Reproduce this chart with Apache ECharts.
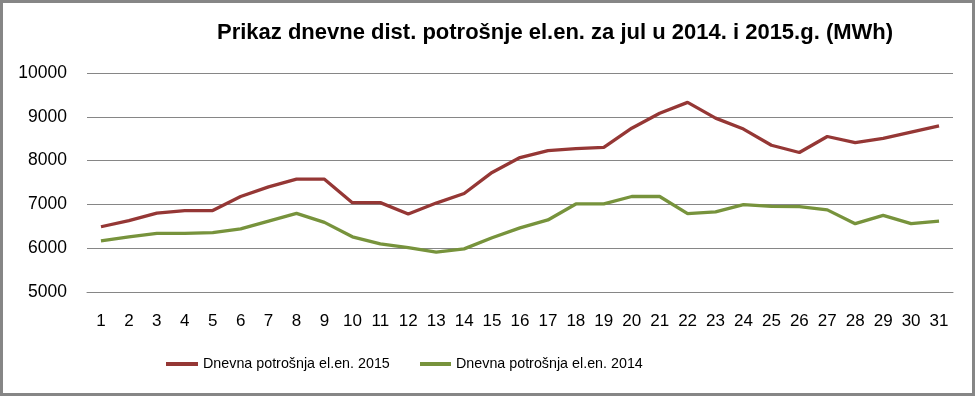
<!DOCTYPE html>
<html>
<head>
<meta charset="utf-8">
<script src="https://cdn.jsdelivr.net/npm/echarts@6/dist/echarts.min.js"></script>
<style>
html,body{margin:0;padding:0;background:#fff;}
#chart{width:977px;height:396px;}
</style>
</head>
<body>
<div id="chart"></div>
<script>
var titleText = 'Prikaz dnevne dist. potrošnje el.en. za jul u 2014. i 2015.g. (MWh)';
var days = ['1','2','3','4','5','6','7','8','9','10','11','12','13','14','15','16','17','18','19','20','21','22','23','24','25','26','27','28','29','30','31'];
var name2015 = 'Dnevna potrošnja el.en. 2015';
var name2014 = 'Dnevna potrošnja el.en. 2014';
var v2015 = [6490, 6630, 6800, 6860, 6860, 7180, 7400, 7575, 7575, 7040, 7040, 6780, 7030, 7250, 7730, 8070, 8230, 8275, 8300, 8740, 9080, 9330, 8970, 8720, 8350, 8185, 8550, 8410, 8505, 8650, 8795];
var v2014 = [6165, 6260, 6340, 6340, 6355, 6440, 6620, 6795, 6590, 6260, 6100, 6015, 5910, 5985, 6240, 6465, 6645, 7010, 7010, 7180, 7180, 6790, 6830, 6995, 6955, 6950, 6875, 6560, 6750, 6560, 6620];

var FONT = '"Liberation Sans", Arial, sans-serif';
var chart = echarts.init(document.getElementById('chart'), null, {renderer: 'canvas'});
chart.setOption({
  animation: false,
  backgroundColor: '#ffffff',
  title: {
    text: titleText,
    left: 212, top: 17,
    textStyle: {fontFamily: FONT, fontWeight: 'bold', fontSize: 22, color: '#000'}
  },
  legend: [{
    data: [name2015],
    left: 166, top: 357, padding: 0,
    icon: 'rect', itemWidth: 32, itemHeight: 4,
    textStyle: {fontFamily: FONT, fontSize: 14.3, color: '#000'}
  }, {
    data: [name2014],
    left: 420, top: 357, padding: 0,
    icon: 'rect', itemWidth: 31, itemHeight: 4,
    textStyle: {fontFamily: FONT, fontSize: 14.3, color: '#000'}
  }],
  graphic: [{
    type: 'rect', silent: true, z: 100,
    shape: {x: 1.5, y: 1.5, width: 972, height: 393},
    style: {fill: 'none', stroke: '#868686', lineWidth: 3}
  }],
  grid: {left: 87, right: 24, top: 73, bottom: 104, containLabel: false},
  xAxis: {
    type: 'category', data: days, boundaryGap: true,
    axisLine: {show: true, lineStyle: {color: '#868686', width: 1}},
    axisTick: {show: false},
    axisLabel: {interval: 0, margin: 21, fontFamily: FONT, fontSize: 17, color: '#000'}
  },
  yAxis: {
    type: 'value', min: 5000, max: 10000, interval: 1000,
    axisLine: {show: false}, axisTick: {show: false},
    splitLine: {lineStyle: {color: '#868686', width: 1}},
    axisLabel: {margin: 20, fontFamily: FONT, fontSize: 17.5, color: '#000',
      formatter: function (v) { return String(v); }}
  },
  series: [{
    name: name2015, type: 'line', data: v2015, symbol: 'none',
    lineStyle: {color: '#953735', width: 3.3}, itemStyle: {color: '#953735'}
  }, {
    name: name2014, type: 'line', data: v2014, symbol: 'none',
    lineStyle: {color: '#77933C', width: 3.3}, itemStyle: {color: '#77933C'}
  }]
});
</script>
</body>
</html>
